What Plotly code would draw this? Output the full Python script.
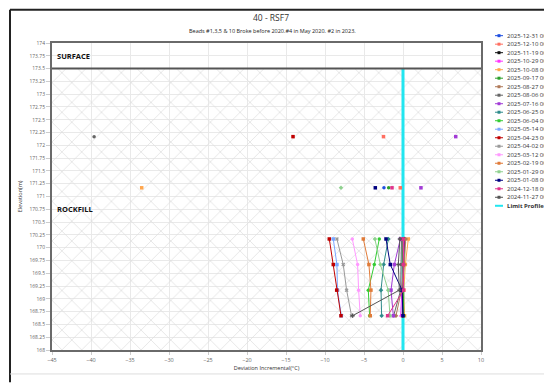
import plotly.graph_objects as go

# ---------------- data ----------------
ELEV = [172.17, 171.67, 171.17, 170.67, 170.17, 169.67, 169.17, 168.67]

SERIES_NAMES = [
    "2025-12-31 00:00:00", "2025-12-10 00:00:00", "2025-11-19 00:00:00",
    "2025-10-29 00:00:00", "2025-10-08 00:00:00", "2025-09-17 00:00:00",
    "2025-08-27 00:00:00", "2025-08-06 00:00:00", "2025-07-16 00:00:00",
    "2025-06-25 00:00:00", "2025-06-04 00:00:00", "2025-05-14 00:00:00",
    "2025-04-23 00:00:00", "2025-04-02 00:00:00", "2025-03-12 00:00:00",
    "2025-02-19 00:00:00", "2025-01-29 00:00:00", "2025-01-08 00:00:00",
    "2024-12-18 00:00:00", "2024-11-27 00:00:00",
]

SERIES_VALUES = [
    [None, None, -2.44, None, 0.10, 0.00, -0.10, 0.05],
    [-2.5, None, -0.35, None, 0.08, 0.10, 0.00, -0.10],
    [None, None, None, None, 0.20, 0.05, -0.05, 0.00],
    [None, None, None, None, 0.15, 0.00, -0.20, -0.30],
    [None, None, -33.5, None, 0.68, 0.30, 0.10, 0.20],
    [None, None, -1.84, None, -0.10, -0.04, 0.00, 0.10],
    [None, None, None, None, 0.35, 0.17, -0.20, -0.90],
    [-39.6, None, None, None, -0.20, -0.26, -0.30, -1.20],
    [6.76, None, 2.30, None, -0.34, -1.11, -1.54, -1.24],
    [None, None, None, None, -1.88, -2.48, -2.82, -2.74],
    [None, None, None, None, -3.04, -3.68, -4.45, -4.28],
    [None, None, None, None, -8.94, -8.47, -8.40, -7.90],
    [-14.1, None, None, None, -9.45, -8.94, -8.50, -7.95],
    [None, None, None, None, -8.47, -7.66, -7.23, -6.60],
    [None, None, None, None, -6.50, -5.82, -5.69, -5.48],
    [None, None, None, None, -5.09, -4.37, -4.11, -4.20],
    [None, None, -7.95, None, -3.60, -2.90, -1.90, -1.67],
    [None, None, -3.55, None, -2.18, -1.63, -0.13, 0.00],
    [None, None, -1.41, None, 0.00, 0.05, 0.08, -1.97],
    [None, None, None, None, -0.40, -0.60, -0.47, -6.46],
]

SERIES_COLORS = [
    "#1f4fe0", "#ff6f61", "#111111", "#ff33ff", "#ffa64d", "#2ca02c",
    "#b07a5a", "#666666", "#a23bd6", "#2e8b8b", "#33cc33", "#7aa6ff",
    "#c00000", "#9a9a9a", "#ff99ff", "#e07b39", "#8fd18f", "#000080",
    "#e0338a", "#555555",
]

SERIES_SYMBOLS = [
    "circle", "square", "diamond", "triangle-up", "square", "circle",
    "diamond", "circle", "square", "diamond", "circle", "square",
    "square", "x", "circle", "square", "diamond", "square",
    "square", "cross",
]

LIMIT_NAME = "Limit Profile"
LIMIT_X = [0, 0]
LIMIT_Y = [168, 173.5]

ZONE_NAMES = ["SURFACE", "ROCKFILL"]
ZONE_LABEL_ELEV = [173.75, 170.75]
HATCH_BOTTOM = 168.0
HATCH_TOP = 173.5

X_RANGE = [-45, 10]
Y_RANGE = [168, 174]
Y_TICKS = [168 + 0.25 * i for i in range(25)]
Y_TICK_TEXT = [("%g" % v) for v in Y_TICKS]

TITLE = "40 - RSF7"
SUBTITLE = "Beads #1,3,5 & 10 Broke before 2020.#4 in May 2020. #2 in 2023."

# ---------------- layout geometry ----------------
OFF = 8               # default page body margin
W, H = 552 - OFF, 383 - OFF
ML, MR, MT, MB = 52 - OFF, 71, 43 - OFF, 26
PW = W - ML - MR
PH = H - MT - MB
FONT = "Open Sans"


def PX(px):
    """window pixel x -> paper fraction"""
    return (px - OFF - ML) / PW


def PY(py):
    """window pixel y -> paper fraction"""
    return 1 - (py - OFF - MT) / PH


fig = go.Figure()

# hatch background zone
fig.add_trace(go.Bar(
    y=[(HATCH_BOTTOM + HATCH_TOP) / 2], x=[X_RANGE[1] - X_RANGE[0]],
    base=[X_RANGE[0]], width=[HATCH_TOP - HATCH_BOTTOM], orientation="h",
    marker=dict(color="rgba(255,255,255,0)", line=dict(width=0),
                pattern=dict(shape="x", fgcolor="#dedede", fgopacity=1,
                             fillmode="overlay", size=14, solidity=0.1)),
    hoverinfo="skip", showlegend=False,
))

# limit profile
fig.add_trace(go.Scatter(
    x=LIMIT_X, y=LIMIT_Y, mode="lines", name=LIMIT_NAME,
    line=dict(color="#22e6f0", width=3), showlegend=False,
))

for name, vals, col, sym in zip(SERIES_NAMES, SERIES_VALUES, SERIES_COLORS, SERIES_SYMBOLS):
    fig.add_trace(go.Scatter(
        x=vals, y=ELEV, mode="lines+markers", name=name,
        line=dict(color=col, width=1),
        marker=dict(color=col, size=3.5, symbol=sym),
        connectgaps=False, showlegend=False,
    ))

shapes = []
annotations = []

# surface boundary line
shapes.append(dict(type="line", xref="x", yref="y", x0=X_RANGE[0], x1=X_RANGE[1],
                   y0=HATCH_TOP, y1=HATCH_TOP, line=dict(color="#555555", width=2)))

# zone labels
for zn, ze in zip(ZONE_NAMES, ZONE_LABEL_ELEV):
    annotations.append(dict(x=X_RANGE[0] + 0.35, y=ze, xref="x", yref="y", text="<b>%s</b>" % zn,
                            showarrow=False, xanchor="left", yanchor="middle",
                            font=dict(family=FONT, size=7.5, color="#111111")))

# outer frame of the chart container
shapes.append(dict(type="line", xref="paper", yref="paper", x0=PX(10), x1=PX(10),
                   y0=PY(9), y1=PY(390), line=dict(color="#222222", width=2)))
shapes.append(dict(type="line", xref="paper", yref="paper", x0=PX(10), x1=PX(600),
                   y0=PY(9), y1=PY(9), line=dict(color="#222222", width=2)))
shapes.append(dict(type="line", xref="paper", yref="paper", x0=PX(10), x1=PX(600),
                   y0=PY(381.5), y1=PY(381.5), line=dict(color="#dddddd", width=1)))

# title and subtitle
annotations.append(dict(x=PX(271), y=PY(17), xref="paper", yref="paper", text=TITLE,
                        showarrow=False, xanchor="center", yanchor="middle",
                        font=dict(family=FONT, size=8.5, color="#333333")))
annotations.append(dict(x=PX(272), y=PY(31), xref="paper", yref="paper", text=SUBTITLE,
                        showarrow=False, xanchor="center", yanchor="middle",
                        font=dict(family=FONT, size=5.5, color="#222222")))

# manual legend
leg_names = SERIES_NAMES + [LIMIT_NAME]
leg_colors = SERIES_COLORS + ["#22e6f0"]
for i, (nm, col) in enumerate(zip(leg_names, leg_colors)):
    yy = 35.5 + i * 8.7
    lw = 2 if nm == LIMIT_NAME else 1
    shapes.append(dict(type="line", xref="paper", yref="paper", x0=PX(495), x1=PX(503),
                       y0=PY(yy), y1=PY(yy), line=dict(color=col, width=lw)))
    if nm != LIMIT_NAME:
        shapes.append(dict(type="rect", xref="paper", yref="paper",
                           xsizemode="pixel", ysizemode="pixel",
                           xanchor=PX(499), yanchor=PY(yy), x0=-1.5, x1=1.5, y0=-1.5, y1=1.5,
                           fillcolor=col, line=dict(width=0)))
    annotations.append(dict(x=PX(505), y=PY(yy), xref="paper", yref="paper",
                            text=("<b>%s</b>" % nm) if nm == LIMIT_NAME else nm,
                            showarrow=False, xanchor="left", yanchor="middle",
                            font=dict(family=FONT, size=6, color="#333333")))

fig.update_layout(
    width=W, height=H,
    margin=dict(l=ML, r=MR, t=MT, b=MB),
    paper_bgcolor="white", plot_bgcolor="white",
    showlegend=False,
    shapes=shapes, annotations=annotations,
    font=dict(family=FONT),
    bargap=0,
)

fig.update_xaxes(
    range=X_RANGE, dtick=5, tick0=-45, showgrid=True, gridcolor="#e9e9e9", gridwidth=1,
    zeroline=False, showline=True, linecolor="#6a6a6a", linewidth=2, mirror=True,
    ticks="outside", ticklen=3, tickcolor="#cccccc",
    tickfont=dict(family=FONT, size=5.5, color="#666666"),
    title=dict(text="Deviation Incremental(°C)", font=dict(family=FONT, size=5.5, color="#333333"),
               standoff=4),
)
fig.update_yaxes(
    range=Y_RANGE, tickvals=Y_TICKS, ticktext=Y_TICK_TEXT, showgrid=True,
    gridcolor="#e9e9e9", gridwidth=1, zeroline=False, showline=True,
    linecolor="#6a6a6a", linewidth=2, mirror=True,
    ticks="outside", ticklen=4, tickcolor="#cccccc",
    tickfont=dict(family=FONT, size=5, color="#666666"),
    title=dict(text="Elevation(m)", font=dict(family=FONT, size=5.5, color="#333333"),
               standoff=6),
)

fig.write_html("out.html")
